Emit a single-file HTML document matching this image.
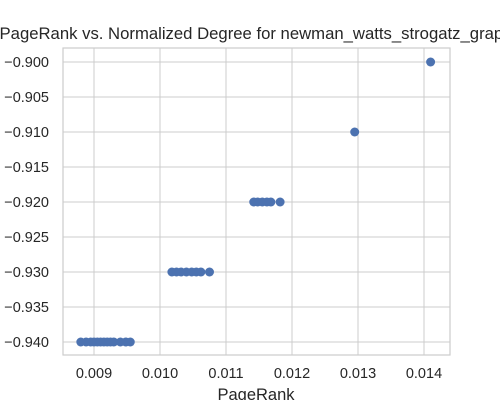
<!DOCTYPE html>
<html><head><meta charset="utf-8"><style>
body{margin:0;background:#fff;}
svg{display:block;font-family:"Liberation Sans",Arial,sans-serif;}
</style></head><body>
<svg id="chart" width="500" height="400">
<rect x="63" y="48" width="387" height="307" fill="#fff"/>
<g id="grid"></g>
<g id="pts"></g>
<rect x="63" y="48" width="387" height="307" fill="none" stroke="#ccc" stroke-width="1.2"/>
<text x="256" y="39" text-anchor="middle" font-size="16.7" fill="#262626">PageRank vs. Normalized Degree for newman_watts_strogatz_graph</text>
<text x="256" y="400" text-anchor="middle" font-size="16.5" fill="#262626">PageRank</text>
</svg>
<script>
const xTicks=[0.009,0.010,0.011,0.012,0.013,0.014];
const yTicks=[-0.900,-0.905,-0.910,-0.915,-0.920,-0.925,-0.930,-0.935,-0.940];
const pagerank=[0.00880,0.00888,0.00895,0.00900,0.00905,0.00910,0.00915,0.00920,0.00925,0.00930,0.00940,0.00948,0.00955,
0.01018,0.01025,0.01032,0.01040,0.01048,0.01055,0.01062,0.01075,
0.01142,0.01148,0.01155,0.01162,0.01168,0.01182,
0.01295,0.01410];
const degree=[-0.94,-0.94,-0.94,-0.94,-0.94,-0.94,-0.94,-0.94,-0.94,-0.94,-0.94,-0.94,-0.94,
-0.93,-0.93,-0.93,-0.93,-0.93,-0.93,-0.93,-0.93,
-0.92,-0.92,-0.92,-0.92,-0.92,-0.92,
-0.91,-0.90];
const xs=v=>94+(v-0.009)*66000;
const ys=v=>62+(-0.900-v)*7000;
const NS="http://www.w3.org/2000/svg";
const grid=document.getElementById('grid'),pts=document.getElementById('pts'),svg=document.getElementById('chart');
xTicks.forEach(t=>{
 const l=document.createElementNS(NS,'line');
 l.setAttribute('x1',xs(t));l.setAttribute('x2',xs(t));l.setAttribute('y1',48);l.setAttribute('y2',355);
 l.setAttribute('stroke','#ccc');l.setAttribute('stroke-width','1');
 
 
 grid.appendChild(l);
 const tx=document.createElementNS(NS,'text');
 tx.setAttribute('x',xs(t));tx.setAttribute('y',378);tx.setAttribute('text-anchor','middle');
 tx.setAttribute('font-size','14.5');tx.setAttribute('fill','#262626');
 tx.textContent=t.toFixed(3);
 
 
 svg.appendChild(tx);
});
yTicks.forEach(t=>{
 const l=document.createElementNS(NS,'line');
 l.setAttribute('x1',63);l.setAttribute('x2',450);l.setAttribute('y1',ys(t));l.setAttribute('y2',ys(t));
 l.setAttribute('stroke','#ccc');l.setAttribute('stroke-width','1');
 
 
 grid.appendChild(l);
 const tx=document.createElementNS(NS,'text');
 tx.setAttribute('x',49);tx.setAttribute('y',ys(t)+5);tx.setAttribute('text-anchor','end');
 tx.setAttribute('font-size','14.5');tx.setAttribute('fill','#262626');
 tx.textContent='\u2212'+Math.abs(t).toFixed(3);
 
 
 svg.appendChild(tx);
});
pagerank.forEach((v,i)=>{
 const c=document.createElementNS(NS,'circle');
 c.setAttribute('cx',xs(v));c.setAttribute('cy',ys(degree[i]));c.setAttribute('r',4.5);
 c.setAttribute('fill','#4c72b0');
 
 
 pts.appendChild(c);
});
</script>
</body></html>
